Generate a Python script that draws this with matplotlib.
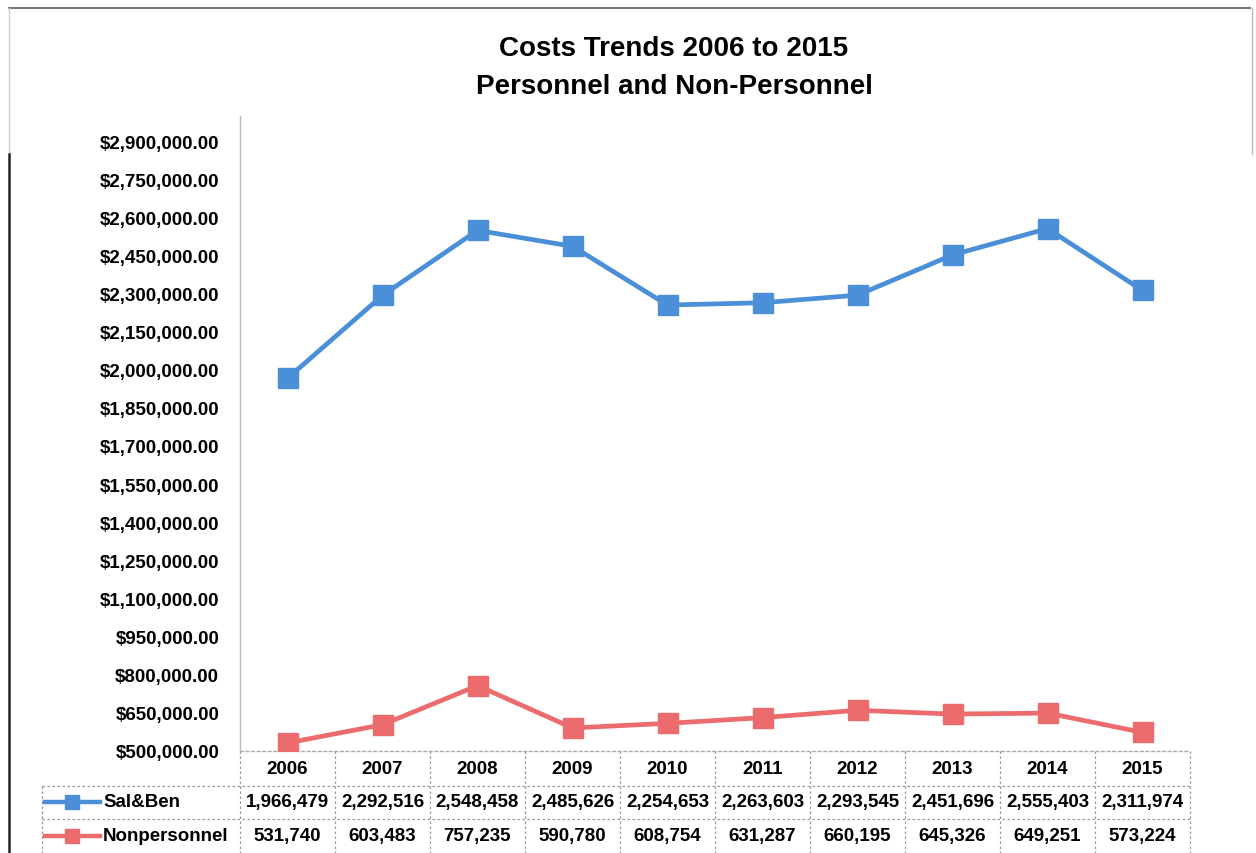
import numpy as np
import matplotlib.pyplot as plt
import matplotlib.transforms as mtransforms
from matplotlib.lines import Line2D
from matplotlib.ticker import FuncFormatter

years = ["2006", "2007", "2008", "2009", "2010", "2011", "2012", "2013", "2014", "2015"]
sal_ben = [1966479, 2292516, 2548458, 2485626, 2254653, 2263603, 2293545, 2451696, 2555403, 2311974]
nonpersonnel = [531740, 603483, 757235, 590780, 608754, 631287, 660195, 645326, 649251, 573224]
series_names = ["Sal&Ben", "Nonpersonnel"]
y_ticks = np.arange(500000, 2900001, 150000)

C_BLUE = "#4a8fd8"
C_RED = "#ec6b6d"
FONT = "Liberation Sans"

W, H = 1256, 854
fig = plt.figure(figsize=(W / 100, H / 100), dpi=100)

# plot area in pixels
L, R, T, B = 240, 1190, 142, 752
ax = fig.add_axes([L / W, 1 - B / H, (R - L) / W, (B - T) / H])

x = list(range(len(years)))
ax.plot(x, sal_ben, color=C_BLUE, lw=3.4, marker="s", ms=15,
        markerfacecolor=C_BLUE, markeredgecolor=C_BLUE, zorder=3)
ax.plot(x, nonpersonnel, color=C_RED, lw=3.4, marker="s", ms=15,
        markerfacecolor=C_RED, markeredgecolor=C_RED, zorder=3)

ax.set_xlim(-0.5, len(years) - 0.5)
ax.set_ylim(500000, 2900000)
ax.set_yticks(y_ticks)
ax.yaxis.set_major_formatter(FuncFormatter(lambda v, p: f"${v:,.2f}"))
ax.set_xticks([])
for lab in ax.get_yticklabels():
    lab.set_fontweight("bold")
    lab.set_fontfamily(FONT)
ax.tick_params(axis="y", length=0, labelsize=13.5, pad=15)
for s in ["top", "right"]:
    ax.spines[s].set_visible(False)
ax.spines["left"].set_color("#bbbbbb")
ax.spines["left"].set_linewidth(1.0)
ax.spines["left"].set_bounds(500000, 3000000)
ax.spines["bottom"].set_color("#aaaaaa")
ax.spines["bottom"].set_linestyle((0, (2, 2)))
ax.spines["bottom"].set_linewidth(1.0)

fig.text(0.5 + 46 / W, 1 - 68 / H, "Costs Trends 2006 to 2015\nPersonnel and Non-Personnel",
         ha="center", va="center", fontsize=20, fontweight="bold", family=FONT,
         linespacing=1.55)

# data table under the plot
def ay(py):
    return (B - py) / (B - T)

tr = mtransforms.blended_transform_factory(ax.transData, ax.transAxes)
row_y = [770, 803, 837]
for i, yr in enumerate(years):
    ax.text(i, ay(row_y[0]), yr, transform=tr, ha="center", va="center",
            fontsize=13.5, fontweight="bold", family=FONT, clip_on=False)
    ax.text(i, ay(row_y[1]), f"{sal_ben[i]:,}", transform=tr, ha="center", va="center",
            fontsize=13.5, fontweight="bold", family=FONT, clip_on=False)
    ax.text(i, ay(row_y[2]), f"{nonpersonnel[i]:,}", transform=tr, ha="center", va="center",
            fontsize=13.5, fontweight="bold", family=FONT, clip_on=False)

grid_kw = dict(color="#999999", lw=0.9, ls=(0, (2, 2)), clip_on=False)
for i in range(len(years) + 1):
    ax.add_line(Line2D([i - 0.5, i - 0.5], [ay(B), ay(H)], transform=tr, **grid_kw))

# overlay in pixel coords for table borders, legend keys and frame
ov = fig.add_axes([0, 0, 1, 1], zorder=-1)
ov.set_xlim(0, W)
ov.set_ylim(H, 0)
ov.axis("off")
for py in [787, 820]:
    ov.plot([42, R], [py, py], **grid_kw)
ov.plot([42, 42], [787, H], **grid_kw)

for py, col, name in zip(row_y[1:], [C_BLUE, C_RED], series_names):
    ov.plot([45, 100], [py, py], color=col, lw=3.2)
    ov.plot([72], [py], marker="s", ms=10, color=col)
    ov.text(103, py, name, ha="left", va="center", fontsize=13.5,
            fontweight="bold", family=FONT)

# outer frame of the scanned chart
ov.plot([9, 1250], [9, 9], color="#777777", lw=1.5)
ov.plot([9, 9], [9, 155], color="#cccccc", lw=1.0)
ov.plot([9, 9], [155, H], color="#222222", lw=1.8)
ov.plot([1252, 1252], [9, 155], color="#bbbbbb", lw=1.0)

fig.savefig("out.png", dpi=100)
